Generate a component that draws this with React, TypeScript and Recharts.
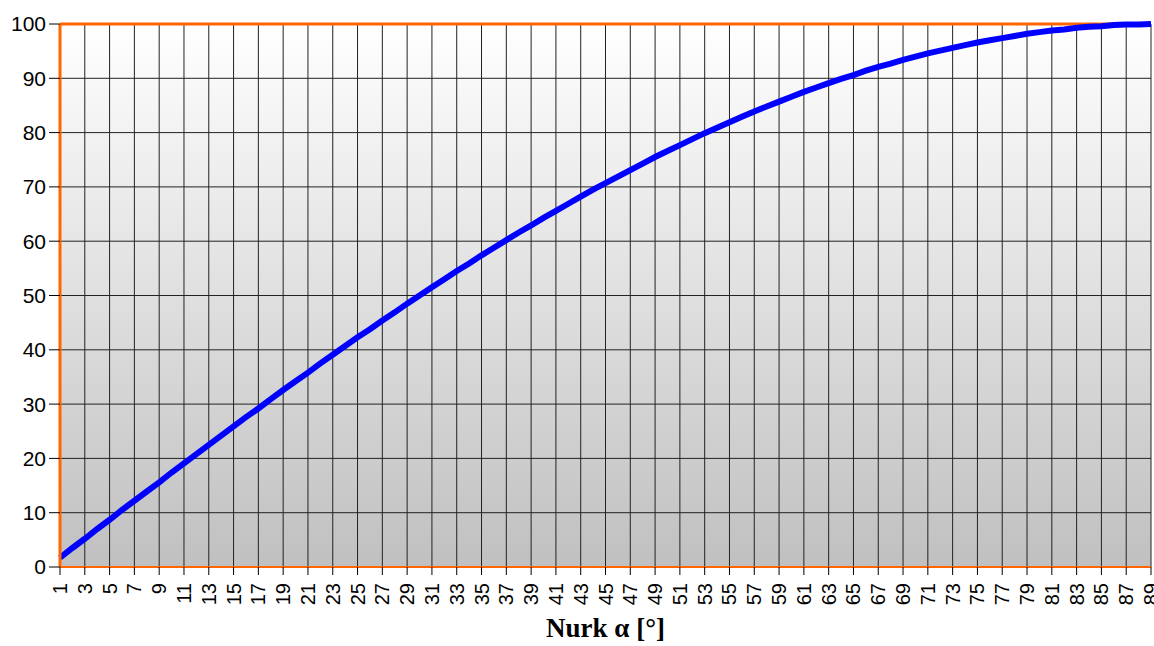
import { LineChart, Line, XAxis, YAxis, CartesianGrid, ReferenceLine, Label } from 'recharts'

const angles = [
  1, 2, 3, 4, 5, 6, 7, 8, 9, 10, 11, 12, 13, 14, 15, 16, 17, 18, 19, 20,
  21, 22, 23, 24, 25, 26, 27, 28, 29, 30, 31, 32, 33, 34, 35, 36, 37, 38, 39, 40,
  41, 42, 43, 44, 45, 46, 47, 48, 49, 50, 51, 52, 53, 54, 55, 56, 57, 58, 59, 60,
  61, 62, 63, 64, 65, 66, 67, 68, 69, 70, 71, 72, 73, 74, 75, 76, 77, 78, 79, 80,
  81, 82, 83, 84, 85, 86, 87, 88, 89,
]

const values = [
  1.7, 3.5, 5.2, 7.0, 8.7, 10.5, 12.2, 13.9, 15.6, 17.4,
  19.1, 20.8, 22.5, 24.2, 25.9, 27.6, 29.2, 30.9, 32.6, 34.2,
  35.8, 37.5, 39.1, 40.7, 42.3, 43.8, 45.4, 46.9, 48.5, 50.0,
  51.5, 53.0, 54.5, 55.9, 57.4, 58.8, 60.2, 61.6, 62.9, 64.3,
  65.6, 66.9, 68.2, 69.5, 70.7, 71.9, 73.1, 74.3, 75.5, 76.6,
  77.7, 78.8, 79.9, 80.9, 81.9, 82.9, 83.9, 84.8, 85.7, 86.6,
  87.5, 88.3, 89.1, 89.9, 90.6, 91.4, 92.1, 92.7, 93.4, 94.0,
  94.6, 95.1, 95.6, 96.1, 96.6, 97.0, 97.4, 97.8, 98.2, 98.5,
  98.8, 99.0, 99.3, 99.5, 99.6, 99.8, 99.9, 99.9, 100.0,
]

const yTicks = [0, 10, 20, 30, 40, 50, 60, 70, 80, 90, 100]

const data = angles.map((a, i) => ({ angle: a, value: values[i] }))

const XTick = (props: any) => {
  const { x, y, payload } = props
  return (
    <g transform={`translate(${x},${y})`}>
      <text
        transform="rotate(-90)"
        x={-6}
        y={0}
        dy={7}
        textAnchor="end"
        fill="#000"
        fontSize={20}
        fontFamily="Liberation Sans, Arial, sans-serif"
      >
        {payload.value}
      </text>
    </g>
  )
}

export default function App() {
  return (
    <div style={{ position: 'absolute', left: 0, top: 0, width: 1154, height: 646, overflow: 'hidden', background: '#fff' }}>
      <LineChart
        width={1162}
        height={646}
        data={data}
        margin={{ top: 24, right: 11, left: 0, bottom: 0 }}
      >
        <defs>
          <linearGradient id="bg" x1="0" y1="0" x2="0" y2="1">
            <stop offset="0%" stopColor="#ffffff" />
            <stop offset="100%" stopColor="#c0c0c0" />
          </linearGradient>
        </defs>
        <CartesianGrid fill="url(#bg)" stroke="#222" strokeOpacity={1} syncWithTicks />
        <XAxis
          dataKey="angle"
          interval={1}
          padding={{ left: 0, right: 0 }}
          height={79}
          tick={<XTick />}
          tickSize={8}
          tickLine={{ stroke: '#000' }}
          axisLine={{ stroke: '#ff6600', strokeWidth: 2 }}
        >
          <Label
            value="Nurk α [°]"
            position="insideBottom"
            offset={9}
            style={{ fontFamily: 'Liberation Serif, Times New Roman, serif', fontWeight: 'bold', fontSize: 27, fill: '#000' }}
          />
        </XAxis>
        <YAxis
          domain={[0, 100]}
          ticks={yTicks}
          width={60}
          tickSize={11}
          tickMargin={3}
          tick={{ fill: '#000', fontSize: 21, fontFamily: 'Liberation Sans, Arial, sans-serif' }}
          tickLine={{ stroke: '#000' }}
          axisLine={{ stroke: '#ff6600', strokeWidth: 3 }}
        />
        <ReferenceLine y={100} stroke="#ff6600" strokeWidth={3} />
        <Line
          type="linear"
          dataKey="value"
          stroke="#0000ff"
          strokeWidth={6}
          dot={false}
          isAnimationActive={false}
        />
      </LineChart>
    </div>
  )
}
